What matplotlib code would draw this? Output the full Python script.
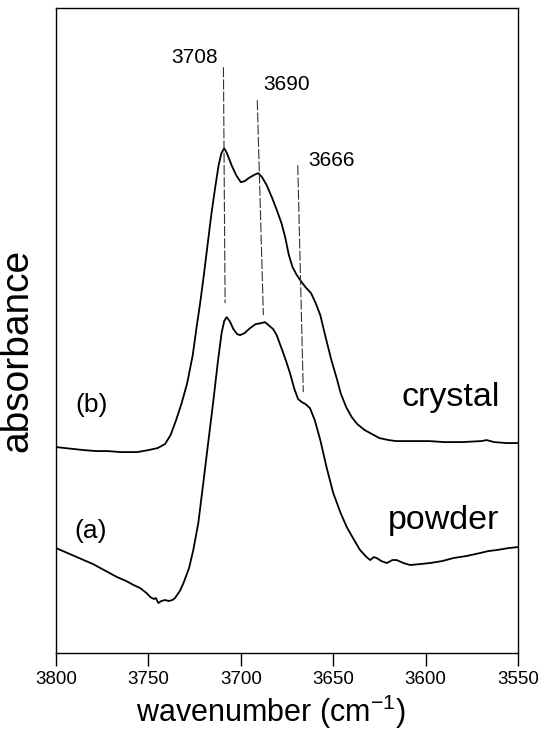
import matplotlib
matplotlib.use("Agg")
import matplotlib.pyplot as plt

plt.rcParams['font.family'] = ['Liberation Sans', 'DejaVu Sans']

# IR spectra, OH stretching region (absorbance in arbitrary units)
crystal_wn = [3800, 3795, 3790, 3785, 3778, 3772, 3765, 3756, 3750, 3745, 3741,
              3738, 3735, 3732, 3729, 3726, 3724, 3722, 3720, 3718, 3716, 3714,
              3712, 3710.5, 3709, 3707.5, 3705, 3702.5, 3700, 3698, 3695, 3692,
              3690.5, 3688.5, 3686, 3683, 3680.5, 3678, 3676, 3674, 3672, 3670,
              3667.5, 3665, 3662, 3659.5, 3657, 3654, 3651, 3648, 3646, 3643,
              3640, 3637, 3633, 3630, 3628, 3625, 3620, 3616, 3605, 3598, 3590,
              3580, 3570, 3567, 3563, 3556, 3550]
crystal_abs = [2.06, 2.05, 2.04, 2.03, 2.02, 2.02, 2.01, 2.01, 2.03, 2.05, 2.09,
               2.18, 2.33, 2.50, 2.70, 2.98, 3.25, 3.50, 3.78, 4.08, 4.38, 4.64,
               4.88, 5.00, 5.05, 5.00, 4.88, 4.78, 4.71, 4.72, 4.76, 4.79,
               4.80, 4.76, 4.68, 4.55, 4.43, 4.30, 4.16, 3.98, 3.86, 3.79,
               3.72, 3.66, 3.60, 3.50, 3.38, 3.15, 2.93, 2.74, 2.60, 2.46,
               2.36, 2.29, 2.23, 2.20, 2.18, 2.15, 2.13, 2.12, 2.12, 2.12, 2.11,
               2.11, 2.12, 2.13, 2.11, 2.10, 2.10]

powder_wn = [3800, 3795, 3790, 3785, 3780, 3775, 3770, 3767, 3762, 3758, 3754.5,
             3751, 3749, 3747, 3746, 3744.6, 3743, 3741, 3739, 3737, 3735.6,
             3733, 3731, 3728, 3725.7, 3723, 3720.3, 3718, 3715, 3712.5, 3710.4,
             3709, 3707.7, 3706, 3704, 3702, 3700.4, 3698, 3695, 3692, 3689,
             3687, 3685, 3682.5, 3680.6, 3678, 3675.5, 3673.4, 3671, 3669, 3667,
             3665, 3662.6, 3660, 3657, 3653.5, 3650, 3646, 3642.7, 3639, 3635.5,
             3632, 3630, 3628, 3626.5, 3624, 3621, 3618, 3615.7, 3612, 3608.4,
             3603, 3597.6, 3591, 3585, 3578, 3570.6, 3566, 3561.5, 3555, 3550]
powder_abs = [1.05, 1.01, 0.97, 0.93, 0.89, 0.84, 0.79, 0.76, 0.72, 0.68, 0.65,
              0.60, 0.56, 0.54, 0.55, 0.50, 0.52, 0.53, 0.52, 0.53, 0.55,
              0.62, 0.70, 0.85, 1.03, 1.30, 1.70, 2.05, 2.50, 2.90, 3.20,
              3.32, 3.36, 3.32, 3.24, 3.19, 3.18, 3.20, 3.25, 3.29, 3.30,
              3.31, 3.28, 3.24, 3.18, 3.05, 2.92, 2.80, 2.64, 2.54, 2.51,
              2.49, 2.45, 2.33, 2.13, 1.85, 1.60, 1.40, 1.26, 1.14, 1.03,
              0.96, 0.93, 0.96, 0.95, 0.92, 0.90, 0.93, 0.93, 0.90, 0.88,
              0.89, 0.90, 0.92, 0.95, 0.97, 1.00, 1.02, 1.03, 1.05, 1.06]

# band markers: label, (wn top, abs top), (wn bottom, abs bottom), label position
band_labels = ['3708', '3690', '3666']
band_top = [(3709.4, 5.86), (3691.1, 5.53), (3669.2, 4.88)]
band_bottom = [(3708.5, 3.50), (3687.8, 3.38), (3666.2, 2.61)]
band_text = [(3724.8, 5.96), (3675.3, 5.69), (3650.9, 4.93)]

xticks = [3800, 3750, 3700, 3650, 3600, 3550]

fig = plt.figure(figsize=(5.38, 7.31), dpi=100)
ax = fig.add_axes([0.104, 0.1067, 0.859, 0.882])

ax.plot(crystal_wn, crystal_abs, color='black', lw=1.3)
ax.plot(powder_wn, powder_abs, color='black', lw=1.3)

for lab, top, bot, pos in zip(band_labels, band_top, band_bottom, band_text):
    ax.plot([top[0], bot[0]], [top[1], bot[1]], color='#333333', lw=0.8,
            linestyle=(0, (9, 2)))
    ax.text(pos[0], pos[1], lab, ha='center', va='center', fontsize=15)

ax.text(3781, 2.48, '(b)', ha='center', va='center', fontsize=19)
ax.text(3781, 1.22, '(a)', ha='center', va='center', fontsize=19)
ax.text(3560, 2.56, 'crystal', ha='right', va='center', fontsize=24.5)
ax.text(3560, 1.33, 'powder', ha='right', va='center', fontsize=24.5)

ax.set_xlim(3800, 3550)
ax.set_ylim(0, 6.45)
ax.set_xticks(xticks)
ax.set_xticklabels([str(t) for t in xticks], fontsize=13.5)
ax.set_yticks([])
ax.tick_params(axis='x', direction='out', length=9, width=1, pad=4)
ax.set_xlabel('wavenumber (cm$^{\\mathregular{-1}}$)', fontsize=22)
ax.xaxis.set_label_coords(0.465, -0.062)
ax.set_ylabel('absorbance', fontsize=28)
ax.yaxis.set_label_coords(-0.045, 0.47)
for s in ax.spines.values():
    s.set_linewidth(1.0)

fig.savefig('out.png', dpi=100)
